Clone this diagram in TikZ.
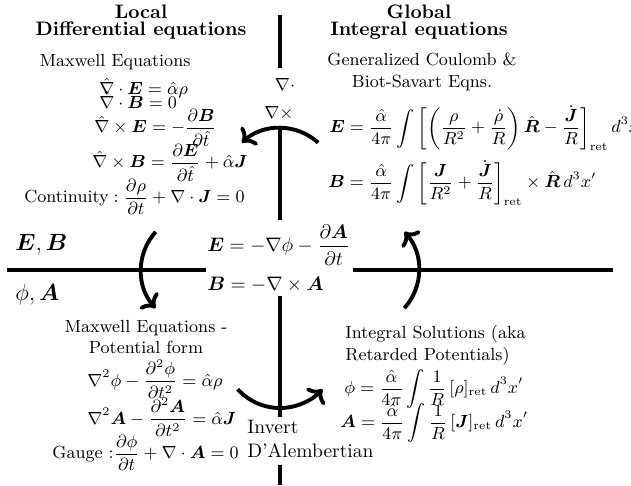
\documentclass[tikz,border=0pt]{standalone}
\usepackage{amsmath}
\usepackage{tikz}
\usetikzlibrary{arrows.meta, positioning, calc}
\tikzset{
  quadline/.style={line width=2pt, color=black},
  bendarrow/.style={->, line width=2pt, color=black},
  heading/.style={font=\bfseries, align=center, inner sep=1pt},
  note/.style={font=\small, align=center, inner sep=1pt},
  eqn/.style={font=\small, anchor=west, inner sep=1pt}
}

\begin{document}
\begin{tikzpicture}[x=0.018cm, y=0.018cm,
  bigsym/.style={font=\large, anchor=west, inner sep=1pt},
  midsym/.style={anchor=west, inner sep=1pt}]

  \useasboundingbox (0,0) rectangle (631,485);

  % Nodes
  \node[heading] (local) at (141,463) {Local\\[-3.5pt]Differential equations};
  \node[heading] (global) at (419,463) {Global\\[-3.5pt]Integral equations};

  \node[note] (maxwell) at (115,423) {Maxwell Equations};
  \node[eqn] (divE) at (97,397) {$\hat\nabla\cdot\boldsymbol{E}=\hat\alpha\rho$};
  \node[eqn] (divB) at (97,385) {$\hat\nabla\cdot\boldsymbol{B}=0$};
  \node[eqn] (curlE) at (92,357) {$\displaystyle\hat\nabla\times\boldsymbol{E}=-\frac{\partial\boldsymbol{B}}{\partial\hat t}$};
  \node[eqn] (curlB) at (90,322) {$\displaystyle\hat\nabla\times\boldsymbol{B}=\frac{\partial\boldsymbol{E}}{\partial\hat t}+\hat\alpha\boldsymbol{J}$};
  \node[eqn] (cont) at (22,288) {$\displaystyle\text{Continuity}:\frac{\partial\rho}{\partial t}+\nabla\cdot\boldsymbol{J}=0$};

  \node[note] (coulomb) at (422,413) {Generalized Coulomb \&\\Biot-Savart Eqns.};
  \node[eqn] (intE) at (327,357) {$\displaystyle\boldsymbol{E}=\frac{\hat\alpha}{4\pi}\int\left[\left(\frac{\rho}{R^2}+\frac{\dot\rho}{R}\right)\hat{\boldsymbol{R}}-\frac{\dot{\boldsymbol{J}}}{R}\right]_{\mathrm{ret}}d^3x'$};
  \node[eqn] (intB) at (326,302) {$\displaystyle\boldsymbol{B}=\frac{\hat\alpha}{4\pi}\int\left[\frac{\boldsymbol{J}}{R^2}+\frac{\dot{\boldsymbol{J}}}{R}\right]_{\mathrm{ret}}\times\hat{\boldsymbol{R}}\,d^3x'$};

  \node[font=\small] (div) at (285,401) {$\nabla\cdot$};
  \node[font=\small] (curl) at (279,372) {$\nabla\times$};

  \node[bigsym] (EB) at (13,240) {$\boldsymbol{E},\boldsymbol{B}$};
  \node[bigsym] (phiA) at (13,190) {$\phi,\boldsymbol{A}$};
  \node[midsym] (potE) at (205,240) {$\displaystyle\boldsymbol{E}=-\nabla\phi-\frac{\partial\boldsymbol{A}}{\partial t}$};
  \node[midsym] (potB) at (205,200) {$\boldsymbol{B}=-\nabla\times\boldsymbol{A}$};

  \node[note] (potform) at (146,148) {Maxwell Equations -\\Potential form};
  \node[eqn] (waveP) at (85,106) {$\displaystyle\nabla^2\phi-\frac{\partial^2\phi}{\partial t^2}=\hat\alpha\rho$};
  \node[eqn] (waveA) at (85,68) {$\displaystyle\nabla^2\boldsymbol{A}-\frac{\partial^2\boldsymbol{A}}{\partial t^2}=\hat\alpha\boldsymbol{J}$};
  \node[eqn] (gauge) at (50,32) {$\displaystyle\text{Gauge }{:}\frac{\partial\phi}{\partial t}+\nabla\cdot\boldsymbol{A}=0$};

  \node[note, align=left, anchor=west] (retard) at (343,140) {Integral Solutions (aka\\Retarded Potentials)};
  \node[eqn] (retP) at (342,96) {$\displaystyle\phi=\frac{\hat\alpha}{4\pi}\int\frac{1}{R}\,[\rho]_{\mathrm{ret}}\,d^3x'$};
  \node[eqn] (retA) at (338,62) {$\displaystyle\boldsymbol{A}=\frac{\hat\alpha}{4\pi}\int\frac{1}{R}\,[\boldsymbol{J}]_{\mathrm{ret}}\,d^3x'$};

  \node[midsym, align=left] (invert) at (245,46) {Invert\\D'Alembertian};

  % Axes
  \coordinate (top) at (280,470);
  \coordinate (topend) at (280,417);
  \coordinate (upper) at (280,358);
  \coordinate (upperend) at (280,265);
  \coordinate (lower) at (280,189);
  \coordinate (lowerend) at (280,68);
  \coordinate (bottom) at (280,20);
  \coordinate (bottomend) at (280,0);
  \coordinate (left) at (7,215);
  \coordinate (leftend) at (206,215);
  \coordinate (right) at (353,215);
  \coordinate (rightend) at (613,215);

  \draw[quadline] (top) -- (topend);
  \draw[quadline] (upper) -- (upperend);
  \draw[quadline] (lower) -- (lowerend);
  \draw[quadline] (bottom) -- (bottomend);
  \draw[quadline] (left) -- (leftend);
  \draw[quadline] (right) -- (rightend);

  % Arcs
  \draw[bendarrow] (280,300) ++(48:57) arc (48:132:57);
  \draw[bendarrow] (198,215) ++(138:57) arc (138:222:57);
  \draw[bendarrow] (362,215) ++(-42:57) arc (-42:42:57);
  \draw[bendarrow] (280,134) ++(222:57) arc (222:318:57);

\end{tikzpicture}
\end{document}
